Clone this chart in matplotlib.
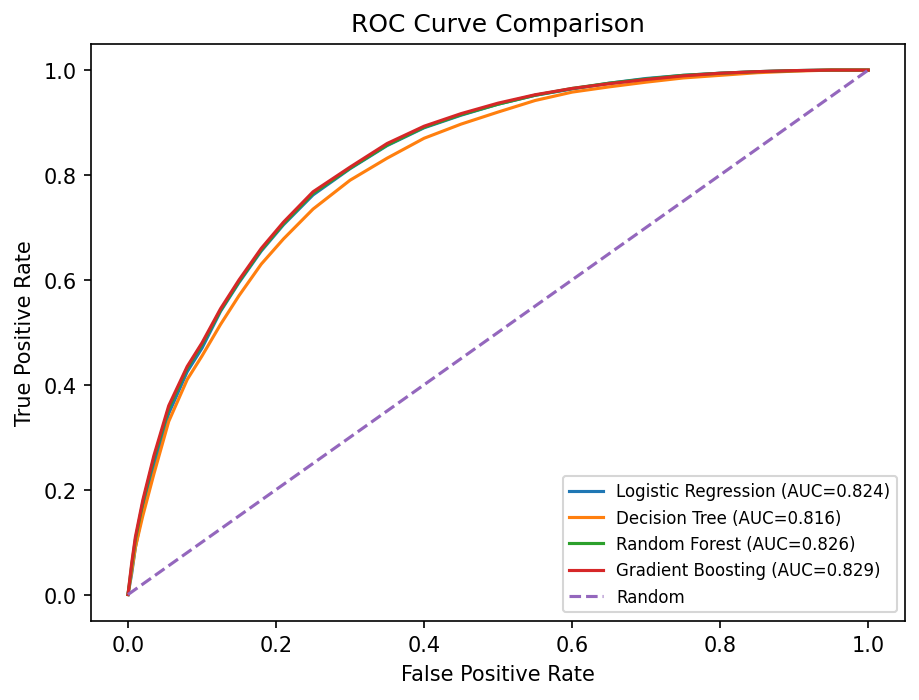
import matplotlib
matplotlib.use("Agg")
import matplotlib.pyplot as plt

# ROC points (shared FPR grid)
fpr = [0, 0.005, 0.01, 0.02, 0.035, 0.055, 0.08, 0.1, 0.125, 0.15, 0.18, 0.21,
       0.25, 0.3, 0.35, 0.4, 0.45, 0.5, 0.55, 0.6, 0.65, 0.7, 0.75, 0.8, 0.85,
       0.9, 0.95, 1.0]

tpr_lr = [0, 0.04, 0.09, 0.16, 0.245, 0.345, 0.425, 0.47, 0.54, 0.595, 0.655,
          0.705, 0.762, 0.812, 0.856, 0.89, 0.914, 0.935, 0.952, 0.964, 0.975,
          0.984, 0.99, 0.994, 0.997, 0.999, 1.0, 1.0]
tpr_dt = [0, 0.045, 0.09, 0.15, 0.23, 0.33, 0.41, 0.455, 0.515, 0.57, 0.63,
          0.678, 0.735, 0.79, 0.832, 0.87, 0.897, 0.92, 0.942, 0.958, 0.968,
          0.977, 0.985, 0.99, 0.995, 0.998, 1.0, 1.0]
tpr_rf = [0, 0.055, 0.105, 0.175, 0.26, 0.355, 0.432, 0.477, 0.542, 0.597, 0.657,
          0.707, 0.765, 0.813, 0.857, 0.891, 0.915, 0.935, 0.952, 0.965, 0.975,
          0.983, 0.99, 0.994, 0.997, 0.999, 1.0, 1.0]
tpr_gb = [0, 0.06, 0.11, 0.18, 0.265, 0.36, 0.435, 0.48, 0.545, 0.6, 0.66,
          0.71, 0.768, 0.815, 0.86, 0.893, 0.917, 0.937, 0.953, 0.965, 0.974,
          0.982, 0.989, 0.994, 0.997, 0.999, 1.0, 1.0]

models = ["Logistic Regression", "Decision Tree", "Random Forest", "Gradient Boosting"]
aucs = [0.824, 0.816, 0.826, 0.829]
curves = [tpr_lr, tpr_dt, tpr_rf, tpr_gb]

fig, ax = plt.subplots(figsize=(919 / 150, 701 / 150), dpi=150)
for name, auc, tpr in zip(models, aucs, curves):
    ax.plot(fpr, tpr, label=f"{name} (AUC={auc:.3f})")
ax.plot([0, 1], [0, 1], "--", label="Random")

ax.set_xlabel("False Positive Rate")
ax.set_ylabel("True Positive Rate")
ax.set_title("ROC Curve Comparison")
ax.legend(loc="lower right", fontsize=8)

fig.subplots_adjust(left=0.099, right=0.985, top=0.936, bottom=0.113)
fig.savefig("out.png", dpi=150)
